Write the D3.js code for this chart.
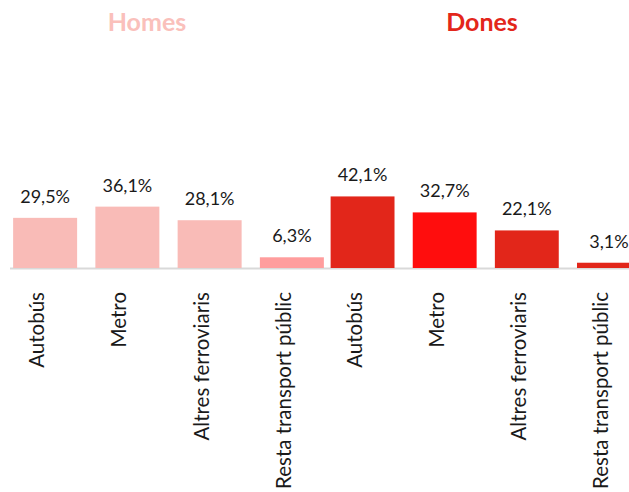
<!DOCTYPE html>
<html>
<head>
<meta charset="utf-8">
<script src="https://cdn.jsdelivr.net/npm/d3@7"></script>
<style>
  html, body { margin: 0; padding: 0; background: #fff; }
  svg { display: block; }
  text { font-family: Lato, "Open Sans", sans-serif; }
</style>
</head>
<body>
<div id="chart"></div>
<script>
// ---- data ----
const groups = ["Homes", "Dones"];
const categories = ["Autobús", "Metro", "Altres ferroviaris", "Resta transport públic"];
const homesValues = [29.5, 36.1, 28.1, 6.3];
const donesValues = [42.1, 32.7, 22.1, 3.1];
const valueLabels = {
  Homes: ["29,5%", "36,1%", "28,1%", "6,3%"],
  Dones: ["42,1%", "32,7%", "22,1%", "3,1%"]
};

// ---- styles ----
const W = 629, H = 492;
const titleColors = { Homes: "#fac0bb", Dones: "#e3261a" };
const barColors = {
  Homes: ["#f9bbb7", "#f9bbb7", "#f9bbb7", "#ff9d9d"],
  Dones: ["#e2261a", "#ff0d0d", "#e2261a", "#e2261a"]
};

const svg = d3.select("#chart").append("svg")
  .attr("width", W).attr("height", H);

const baseY = 268;
const y = d3.scaleLinear().domain([0, 45]).range([baseY, baseY - 45 * 1.7]);

const xScales = {
  Homes: d3.scaleBand().domain(categories).range([4, 333]).paddingInner(0.222).paddingOuter(0.111),
  Dones: d3.scaleBand().domain(categories).range([321.5, 650]).paddingInner(0.222).paddingOuter(0.111)
};
const titleX = { Homes: 147, Dones: 482 };
const values = { Homes: homesValues, Dones: donesValues };

// baseline
svg.append("line")
  .attr("x1", 10).attr("x2", W)
  .attr("y1", baseY + 0.5).attr("y2", baseY + 0.5)
  .attr("stroke", "#d9d9d9").attr("stroke-width", 2);

groups.forEach(g => {
  const x = xScales[g];
  const data = categories.map((c, i) => ({ c, v: values[g][i], label: valueLabels[g][i], color: barColors[g][i] }));

  svg.append("text")
    .attr("x", titleX[g]).attr("y", 31)
    .attr("text-anchor", "middle")
    .attr("font-size", 25).attr("font-weight", 700)
    .attr("fill", titleColors[g])
    .text(g);

  svg.selectAll(null).data(data).enter().append("rect")
    .attr("x", d => x(d.c))
    .attr("width", x.bandwidth())
    .attr("y", d => y(d.v))
    .attr("height", d => y(0) - y(d.v))
    .attr("fill", d => d.color);

  svg.selectAll(null).data(data).enter().append("text")
    .attr("x", d => x(d.c) + x.bandwidth() / 2)
    .attr("y", d => y(d.v) - 15)
    .attr("text-anchor", "middle")
    .attr("font-size", 18)
    .attr("fill", "#1a1a1a")
    .text(d => d.label);

  svg.selectAll(null).data(data).enter().append("text")
    .attr("transform", d => `translate(${x(d.c) + x.bandwidth() / 2 - 1},292) rotate(-90)`)
    .attr("text-anchor", "end")
    .attr("font-size", 20.5)
    .attr("fill", "#1a1a1a")
    .text(d => d.c);
});
</script>
</body>
</html>
